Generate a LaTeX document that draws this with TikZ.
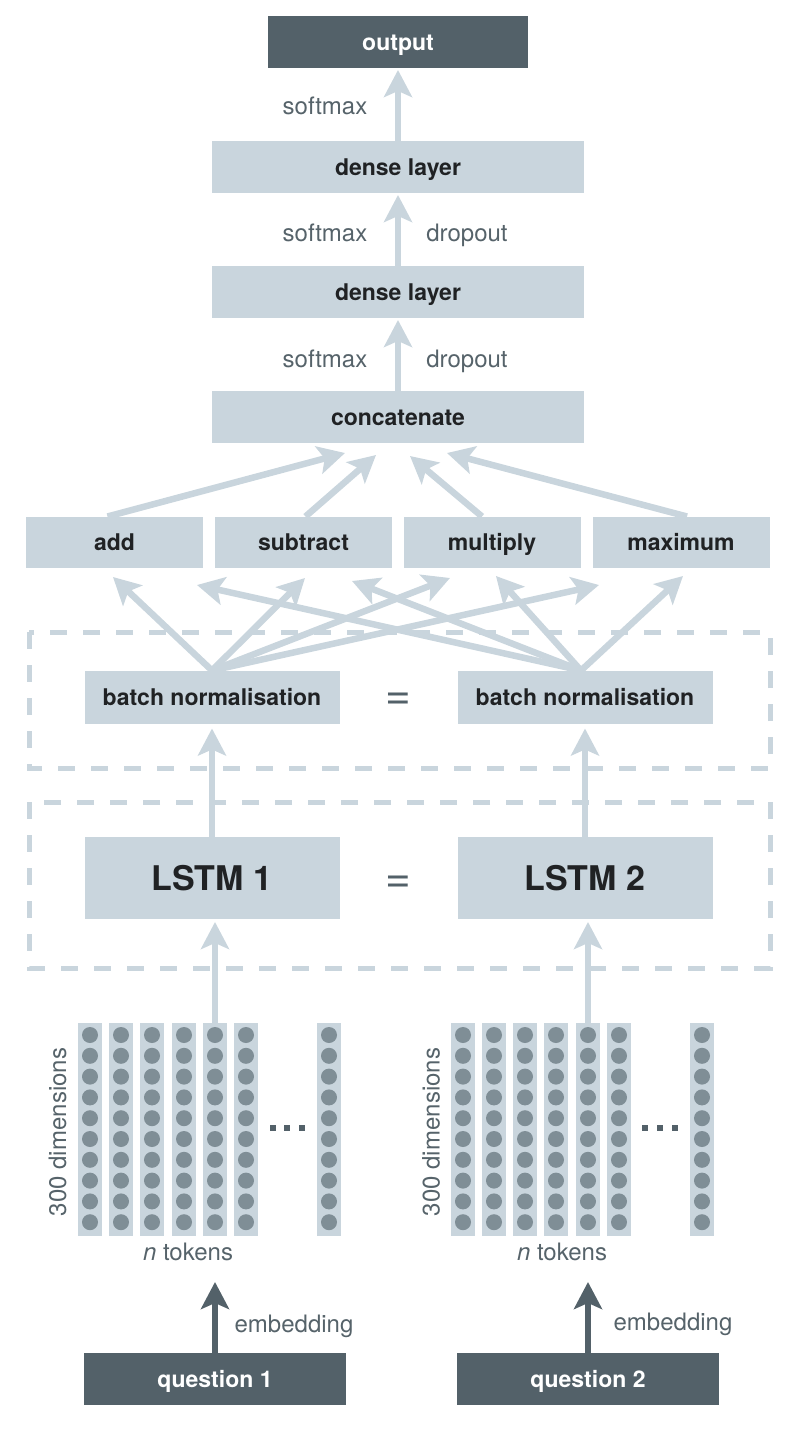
\documentclass[tikz,border=0pt]{standalone}
\usepackage{fontspec}
\setmainfont{TeX Gyre Heros}
\usetikzlibrary{arrows.meta}
\definecolor{pale}{HTML}{C9D5DD}
\definecolor{slate}{HTML}{536169}
\definecolor{dotgrey}{HTML}{7F8E96}
\definecolor{labelgrey}{HTML}{56636A}
\definecolor{boxtext}{HTML}{202224}

\begin{document}
\begin{tikzpicture}[x=1pt,y=-1pt,
	box/.style={fill=pale,inner sep=0pt,outer sep=0pt,minimum height=52pt,text=boxtext,text height=16.5pt,text depth=0pt,font=\fontsize{23}{27}\selectfont\bfseries},
	darkbox/.style={box,fill=slate,text=white},
	big/.style={box,minimum height=82pt,text height=24.5pt,font=\fontsize{34}{40}\selectfont\bfseries},
	lbl/.style={anchor=base,inner sep=0pt,text=labelgrey,font=\fontsize{24}{28}\selectfont},
	flow/.style={draw=pale,line width=6.5pt,-{Stealth[length=27pt,width=28pt,inset=6pt]}},
	darkflow/.style={flow,draw=slate},
	frame/.style={draw=pale,line width=5pt,dash pattern=on 17pt off 16pt},
	col/.style={fill=pale,inner sep=0pt,outer sep=0pt,minimum width=24pt,minimum height=213pt},
	same/.style={inner sep=0pt,text=slate,font=\fontsize{44}{44}\selectfont}]
	\useasboundingbox (0,0) rectangle (797,1436);
	% dashed frames
	\draw[frame] (29,632) rectangle (770,768);
	\draw[frame] (29,802) rectangle (770,968);
	% top stack
	\node[darkbox,minimum width=260pt] (out) at (398,42) {output};
	\node[box,minimum width=372pt] (d1) at (398,167) {dense layer};
	\node[box,minimum width=372pt] (d2) at (398,292) {dense layer};
	\node[box,minimum width=372pt] (cat) at (398,417) {concatenate};
	\node[box,minimum width=177pt,minimum height=51pt] (add) at (114.5,542) {add};
	\node[box,minimum width=177pt,minimum height=51pt] (sub) at (303.5,542) {subtract};
	\node[box,minimum width=177pt,minimum height=51pt] (mul) at (492,542) {multiply};
	\node[box,minimum width=177pt,minimum height=51pt] (max) at (681,542) {maximum};
	\node[box,minimum width=255pt,minimum height=53pt] (bn1) at (212,697) {batch normalisation};
	\node[box,minimum width=255pt,minimum height=53pt] (bn2) at (585,697) {batch normalisation};
	\node[same] (eq1) at (398,701) {=};
	\node[big,minimum width=255pt] (lstm1) at (212,878) {LSTM 1};
	\node[big,minimum width=255pt] (lstm2) at (585,878) {LSTM 2};
	\node[same] (eq2) at (398,884) {=};
	\node[darkbox,minimum width=262pt] (q1) at (215,1379) {question 1};
	\node[darkbox,minimum width=262pt] (q2) at (588,1379) {question 2};
	% word vectors
	\foreach \x [count=\i] in {78,109,140,172,203,234,317} {
		\node[col,anchor=north west] (l\i) at (\x,1023) {};
		\foreach \k in {0,...,9} \fill[dotgrey] (\x+12,1035+20.8*\k) circle (8pt);
	}
	\foreach \x [count=\i] in {451,482,513,544,576,607,690} {
		\node[col,anchor=north west] (r\i) at (\x,1023) {};
		\foreach \k in {0,...,9} \fill[dotgrey] (\x+12,1035+20.8*\k) circle (8pt);
	}
	\foreach \x in {273,287,302,645,660,675} \fill[slate] (\x-3,1125) rectangle (\x+3,1131);
	% labels
	\node[lbl] (s0) at (325,114) {softmax};
	\node[lbl] (s1) at (325,241) {softmax};
	\node[lbl] (p1) at (467,241) {dropout};
	\node[lbl] (s2) at (325,367) {softmax};
	\node[lbl] (p2) at (467,367) {dropout};
	\node[lbl,anchor=center,rotate=90] (dim1) at (57.5,1132) {300 dimensions};
	\node[lbl,anchor=center,rotate=90] (dim2) at (431,1132) {300 dimensions};
	\node[lbl] (tok1) at (188,1260) {\itshape n\upshape{} tokens};
	\node[lbl] (tok2) at (562,1260) {\itshape n\upshape{} tokens};
	\node[lbl] (emb1) at (294,1332) {embedding};
	\node[lbl] (emb2) at (673,1330) {embedding};
	% arrow ends
	\coordinate (c1) at (345,453);
	\coordinate (c2) at (376,455);
	\coordinate (c3) at (410,456);
	\coordinate (c4) at (447,453);
	\coordinate (la) at (113,577);
	\coordinate (ls) at (305,578);
	\coordinate (lm) at (450,578);
	\coordinate (lx) at (599,585);
	\coordinate (ra) at (197,585);
	\coordinate (rs) at (352,581);
	\coordinate (rm) at (496,576);
	\coordinate (rx) at (683,576);
	\coordinate (e1) at (215,1282);
	\coordinate (e2) at (588,1282);
	% connectors
	\draw[flow,shorten >=2pt] (d1.north) -- (out.south);
	\draw[flow,shorten >=2pt] (d2.north) -- (d1.south);
	\draw[flow,shorten >=2pt] (cat.north) -- (d2.south);
	\draw[flow] ([xshift=-7pt]add.north) -- (c1);
	\draw[flow] ([xshift=2pt]sub.north) -- (c2);
	\draw[flow] ([xshift=-10pt]mul.north) -- (c3);
	\draw[flow] ([xshift=6pt]max.north) -- (c4);
	\foreach \t in {la,ls,lm,lx} \draw[flow] (bn1.north) -- (\t);
	\foreach \t in {ra,rs,rm,rx} \draw[flow] ([xshift=-4pt]bn2.north) -- (\t);
	\draw[flow,shorten >=5pt] (lstm1.north) -- (bn1.south);
	\draw[flow,shorten >=5pt] (lstm2.north) -- (bn2.south);
	\draw[flow,shorten >=3pt] (l5.north) -- (l5.north |- lstm1.south);
	\draw[flow,shorten >=3pt] (r5.north) -- (r5.north |- lstm2.south);
	\draw[darkflow] (q1.north) -- (e1);
	\draw[darkflow] (q2.north) -- (e2);
\end{tikzpicture}
\end{document}
